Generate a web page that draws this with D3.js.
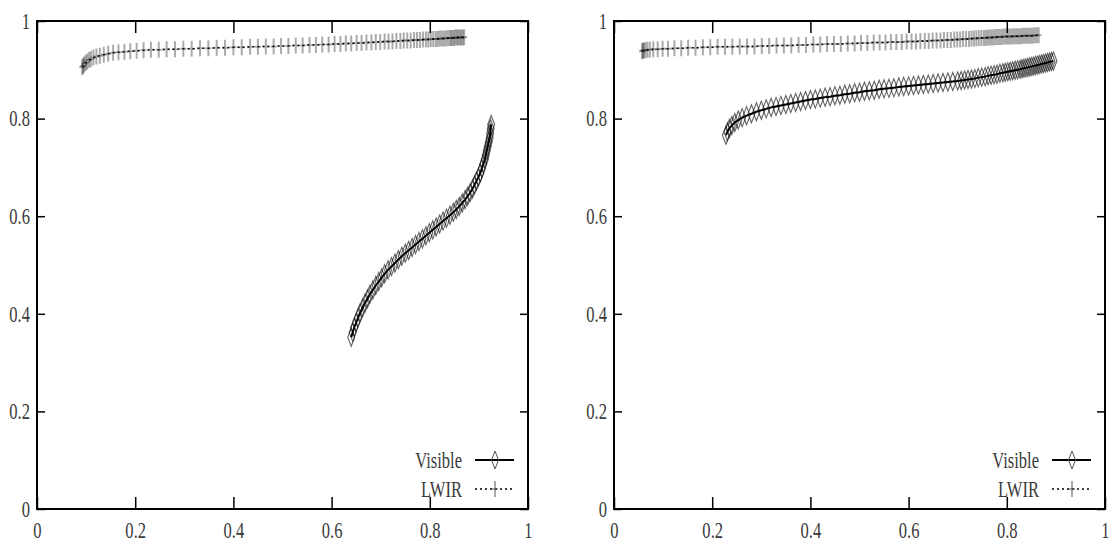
<!DOCTYPE html>
<html>
<head>
<meta charset="utf-8">
<style>
  body { margin: 0; background: #fff; }
  svg { display: block; }
  .tick text { font-family: 'Liberation Serif', 'DejaVu Serif', serif; font-size: 23px; fill: #3a3a3a; }
  .legend text { font-family: 'Liberation Serif', 'DejaVu Serif', serif; font-size: 23px; fill: #3a3a3a; }
</style>
</head>
<body>
<svg width="1111" height="545"></svg>
<script src="https://d3js.org/d3.v7.min.js"></script>
<script>
// axis ticks
const tickValues = [0, 0.2, 0.4, 0.6, 0.8, 1];
const tickLabels = ["0", "0.2", "0.4", "0.6", "0.8", "1"];
const seriesNames = ["Visible", "LWIR"];

// left panel
const leftVisible = [[0.640,0.352],[0.643,0.362],[0.646,0.372],[0.650,0.382],[0.654,0.392],[0.658,0.402],[0.663,0.412],[0.668,0.422],[0.673,0.431],[0.678,0.440],[0.684,0.449],[0.690,0.458],[0.696,0.466],[0.702,0.474],[0.708,0.482],[0.715,0.490],[0.722,0.497],[0.729,0.504],[0.736,0.511],[0.743,0.518],[0.750,0.524],[0.757,0.530],[0.764,0.536],[0.771,0.542],[0.778,0.548],[0.785,0.554],[0.792,0.560],[0.799,0.566],[0.806,0.572],[0.813,0.578],[0.820,0.584],[0.827,0.590],[0.834,0.596],[0.841,0.602],[0.848,0.608],[0.854,0.614],[0.860,0.620],[0.866,0.627],[0.872,0.634],[0.877,0.641],[0.882,0.648],[0.887,0.656],[0.891,0.664],[0.895,0.672],[0.899,0.680],[0.903,0.689],[0.906,0.698],[0.909,0.707],[0.912,0.716],[0.914,0.725],[0.916,0.734],[0.918,0.743],[0.920,0.752],[0.922,0.761],[0.923,0.770],[0.924,0.779],[0.925,0.788]];

const leftLwir = [[0.092,0.905],[0.094,0.908],[0.096,0.911],[0.099,0.914],[0.102,0.917],[0.106,0.920],[0.110,0.922],[0.115,0.925],[0.121,0.927],[0.128,0.929],[0.136,0.931],[0.145,0.933],[0.155,0.935],[0.166,0.936],[0.178,0.937],[0.190,0.938],[0.203,0.939],[0.217,0.940],[0.232,0.941],[0.248,0.941],[0.264,0.942],[0.281,0.942],[0.298,0.943],[0.315,0.943],[0.332,0.944],[0.349,0.944],[0.366,0.945],[0.383,0.945],[0.400,0.946],[0.417,0.946],[0.434,0.947],[0.450,0.947],[0.466,0.948],[0.482,0.948],[0.497,0.949],[0.512,0.949],[0.527,0.950],[0.541,0.950],[0.555,0.951],[0.568,0.951],[0.581,0.952],[0.594,0.952],[0.606,0.953],[0.618,0.953],[0.629,0.954],[0.640,0.954],[0.651,0.955],[0.661,0.955],[0.671,0.956],[0.681,0.956],[0.690,0.957],[0.699,0.957],[0.708,0.958],[0.716,0.958],[0.724,0.958],[0.732,0.959],[0.740,0.959],[0.747,0.960],[0.754,0.960],[0.761,0.960],[0.768,0.961],[0.774,0.961],[0.780,0.961],[0.786,0.962],[0.792,0.962],[0.797,0.962],[0.802,0.963],[0.807,0.963],[0.812,0.963],[0.816,0.963],[0.820,0.964],[0.824,0.964],[0.828,0.964],[0.832,0.964],[0.836,0.965],[0.840,0.965],[0.843,0.965],[0.846,0.965],[0.849,0.965],[0.852,0.966],[0.855,0.966],[0.858,0.966],[0.861,0.966],[0.864,0.966],[0.867,0.966],[0.870,0.967]];

// right panel
const rightVisible = [[0.228,0.766],[0.231,0.773],[0.235,0.780],[0.240,0.786],[0.246,0.792],[0.253,0.797],[0.261,0.802],[0.270,0.806],[0.280,0.810],[0.290,0.814],[0.300,0.817],[0.310,0.820],[0.320,0.823],[0.330,0.825],[0.340,0.827],[0.350,0.829],[0.360,0.831],[0.370,0.833],[0.380,0.835],[0.390,0.837],[0.400,0.839],[0.410,0.840],[0.420,0.842],[0.430,0.844],[0.440,0.845],[0.450,0.847],[0.460,0.848],[0.470,0.850],[0.480,0.851],[0.490,0.853],[0.500,0.854],[0.510,0.856],[0.520,0.857],[0.530,0.858],[0.540,0.860],[0.550,0.861],[0.560,0.862],[0.570,0.863],[0.580,0.865],[0.590,0.866],[0.600,0.867],[0.610,0.868],[0.620,0.869],[0.630,0.870],[0.640,0.871],[0.650,0.872],[0.660,0.873],[0.670,0.874],[0.680,0.875],[0.690,0.876],[0.700,0.877],[0.707,0.878],[0.714,0.879],[0.721,0.880],[0.728,0.881],[0.735,0.882],[0.742,0.884],[0.749,0.885],[0.756,0.886],[0.762,0.888],[0.768,0.889],[0.774,0.890],[0.780,0.891],[0.786,0.893],[0.792,0.894],[0.797,0.895],[0.802,0.896],[0.807,0.897],[0.812,0.898],[0.817,0.899],[0.822,0.900],[0.827,0.901],[0.831,0.902],[0.835,0.903],[0.839,0.904],[0.843,0.905],[0.847,0.906],[0.851,0.907],[0.855,0.908],[0.859,0.909],[0.863,0.910],[0.867,0.911],[0.871,0.912],[0.875,0.913],[0.879,0.914],[0.883,0.915],[0.887,0.916],[0.891,0.917],[0.895,0.918]];

const rightLwir = [[0.057,0.938],[0.059,0.939],[0.061,0.940],[0.064,0.940],[0.068,0.941],[0.073,0.941],[0.080,0.942],[0.089,0.942],[0.099,0.943],[0.110,0.943],[0.123,0.944],[0.137,0.944],[0.151,0.945],[0.166,0.945],[0.181,0.946],[0.196,0.946],[0.211,0.947],[0.226,0.947],[0.241,0.947],[0.256,0.948],[0.271,0.948],[0.286,0.948],[0.301,0.949],[0.316,0.949],[0.331,0.950],[0.346,0.950],[0.361,0.950],[0.376,0.951],[0.391,0.951],[0.406,0.952],[0.420,0.952],[0.434,0.953],[0.448,0.953],[0.462,0.953],[0.476,0.954],[0.490,0.954],[0.503,0.955],[0.516,0.955],[0.529,0.956],[0.541,0.956],[0.553,0.956],[0.564,0.957],[0.575,0.957],[0.586,0.957],[0.596,0.958],[0.606,0.958],[0.615,0.958],[0.624,0.959],[0.633,0.959],[0.641,0.959],[0.649,0.960],[0.657,0.960],[0.665,0.960],[0.672,0.961],[0.679,0.961],[0.686,0.961],[0.693,0.962],[0.699,0.962],[0.705,0.962],[0.711,0.963],[0.717,0.963],[0.723,0.963],[0.728,0.964],[0.733,0.964],[0.738,0.964],[0.743,0.965],[0.748,0.965],[0.753,0.965],[0.757,0.965],[0.761,0.966],[0.765,0.966],[0.769,0.966],[0.773,0.966],[0.777,0.967],[0.781,0.967],[0.785,0.967],[0.789,0.967],[0.793,0.968],[0.797,0.968],[0.801,0.968],[0.805,0.968],[0.809,0.968],[0.813,0.969],[0.817,0.969],[0.821,0.969],[0.825,0.969],[0.829,0.969],[0.833,0.970],[0.837,0.970],[0.841,0.970],[0.845,0.970],[0.849,0.970],[0.853,0.970],[0.857,0.971],[0.861,0.971],[0.865,0.971]];

let svg = d3.select("svg")
let sx = 0.72  // squeeze text, the source font is narrow

let diamond = "M0,-9L3.5,0L0,9L-3.5,0Z"
let plus = "M0,-8V8M-3,0H3"

let panels = [
    { left: 37, right: 528, visible: leftVisible, lwir: leftLwir },
    { left: 614, right: 1105, visible: rightVisible, lwir: rightLwir }
]

panels.forEach(p => {
    let x = d3.scaleLinear().domain([0, 1]).range([p.left, p.right])
    let y = d3.scaleLinear().domain([0, 1]).range([509, 21])
    let g = svg.append("g")

    let fmt = d => tickLabels[tickValues.indexOf(d)]

    // bottom axis with labels, ticks pointing in
    let bottom = g.append("g")
        .attr("transform", "translate(0,509)")
        .call(d3.axisBottom(x).tickValues(tickValues).tickFormat(fmt)
            .tickSizeInner(-12).tickSizeOuter(0).tickPadding(13))
    bottom.select(".domain").remove()
    bottom.selectAll("text").attr("transform", `scale(${sx},1)`)

    let leftAx = g.append("g")
        .attr("transform", `translate(${p.left},0)`)
        .call(d3.axisLeft(y).tickValues(tickValues).tickFormat(fmt)
            .tickSizeInner(-8).tickSizeOuter(0).tickPadding(0))
    leftAx.select(".domain").remove()
    leftAx.selectAll("text").attr("x", -7 / sx).attr("transform", `scale(${sx},1)`)

    let top = g.append("g")
        .attr("transform", "translate(0,21)")
        .call(d3.axisTop(x).tickValues(tickValues).tickFormat("").tickSizeInner(-12).tickSizeOuter(0))
    top.select(".domain").remove()

    let rightAx = g.append("g")
        .attr("transform", `translate(${p.right},0)`)
        .call(d3.axisRight(y).tickValues(tickValues).tickFormat("").tickSizeInner(-8).tickSizeOuter(0))
    rightAx.select(".domain").remove()

    g.selectAll(".tick line").attr("stroke", "#000").attr("stroke-width", 1.5)

    g.append("rect")
        .attr("x", p.left).attr("y", 21)
        .attr("width", p.right - p.left).attr("height", 488)
        .attr("fill", "none").attr("stroke", "#000").attr("stroke-width", 2)

    let line = d3.line().x(d => x(d[0])).y(d => y(d[1]))

    // LWIR: plus markers + dotted line
    g.selectAll(".lwir")
        .data(p.lwir)
        .join("path")
        .attr("class", "lwir")
        .attr("d", plus)
        .attr("transform", d => `translate(${x(d[0])},${y(d[1])})`)
        .attr("fill", "none")
        .attr("stroke", "#000")
        .attr("stroke-opacity", 0.33)
        .attr("stroke-width", 2)

    g.append("path")
        .attr("d", line(p.lwir))
        .attr("fill", "none")
        .attr("stroke", "#000")
        .attr("stroke-width", 1.5)
        .attr("stroke-dasharray", "2,3")

    // Visible: diamonds + solid line
    g.selectAll(".vis")
        .data(p.visible)
        .join("path")
        .attr("class", "vis")
        .attr("d", diamond)
        .attr("transform", d => `translate(${x(d[0])},${y(d[1])})`)
        .attr("fill", "none")
        .attr("stroke", "#111")
        .attr("stroke-opacity", 0.65)
        .attr("stroke-width", 1.1)

    g.append("path")
        .attr("d", line(p.visible))
        .attr("fill", "none")
        .attr("stroke", "#000")
        .attr("stroke-width", 2)

    // legend
    let leg = g.append("g").attr("class", "legend")
    let rows = [460, 489]
    seriesNames.forEach((name, i) => {
        leg.append("text")
            .attr("transform", `translate(${p.right - 66},${rows[i] + 8}) scale(${sx},1)`)
            .attr("text-anchor", "end")
            .text(name)
        leg.append("line")
            .attr("x1", p.right - 53).attr("x2", p.right - 14)
            .attr("y1", rows[i]).attr("y2", rows[i])
            .attr("stroke", "#000")
            .attr("stroke-width", i == 0 ? 2 : 1.5)
            .attr("stroke-dasharray", i == 0 ? null : "2,3")
        leg.append("path")
            .attr("d", i == 0 ? diamond : plus)
            .attr("transform", `translate(${p.right - 33},${rows[i]})`)
            .attr("fill", "none")
            .attr("stroke", "#555")
            .attr("stroke-width", 1)
    })
})
</script>
</body>
</html>
